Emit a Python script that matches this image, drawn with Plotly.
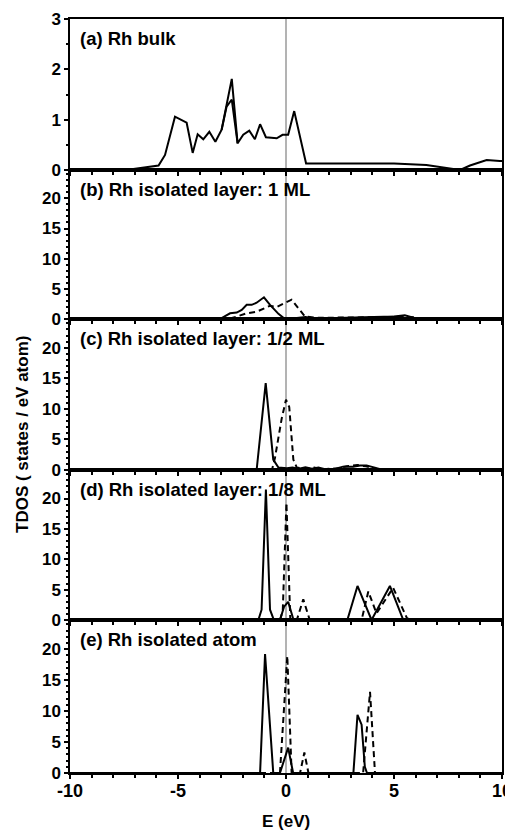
import plotly.graph_objects as go

# ---------------- data ----------------
Ea = [-10, -7.4, -6.9, -5.9, -5.6, -5.14, -4.6, -4.32, -4.09, -3.83, -3.55, -3.27, -2.98, -2.75, -2.51,
      -2.24, -1.98, -1.70, -1.44, -1.20, -0.93, -0.43, -0.16, 0.10, 0.38, 0.93, 2.0, 3.5, 5.0, 6.5, 7.3,
      8.06, 8.52, 9.29, 9.9, 10]
Ta = [0, 0, 0.03, 0.09, 0.3, 1.06, 0.94, 0.34, 0.71, 0.61, 0.76, 0.56, 0.80, 1.26, 1.81,
      0.53, 0.70, 0.78, 0.61, 0.91, 0.65, 0.63, 0.70, 0.70, 1.17, 0.13, 0.13, 0.14, 0.13, 0.10, 0.05,
      0, 0.09, 0.2, 0.18, 0.18]
Ea2 = [-2.98, -2.75, -2.51, -2.24]
Ta2 = [0.80, 1.26, 1.40, 0.53]

Eb_s = [-10, -3.06, -2.59, -2.28, -2.05, -1.82, -1.59, -1.36, -1.02, -0.74, -0.35, -0.12, 0.3, 0.9,
        1.3, 1.9, 2.8, 3.6, 4.4, 5.0, 5.5, 5.8, 6.1, 10]
Tb_s = [0, 0, 0.95, 1.06, 1.5, 2.35, 2.35, 2.7, 3.6, 2.35, 0.85, 0.22, 0.1, 0.35,
        0.1, 0.1, 0.2, 0.3, 0.35, 0.4, 0.6, 0.3, 0, 0]
Eb_d = [-10, -2.7, -2.28, -1.82, -1.36, -0.74, -0.43, -0.12, 0.26, 0.57, 0.88, 1.5, 2.5, 3.5, 4.5,
        5.3, 5.9, 6.2, 10]
Tb_d = [0, 0, 0.4, 0.95, 1.2, 2.2, 2.0, 2.6, 3.2, 1.8, 0.4, 0.2, 0.2, 0.3, 0.3,
        0.4, 0.3, 0, 0]

Ec_s = [-10, -1.36, -0.94, -0.59, -0.35, 0.04, 0.3, 0.6, 0.9, 1.2, 1.5, 1.9, 2.3, 2.64, 3.1, 3.43,
        3.73, 4.2, 4.5, 10]
Tc_s = [0, 0, 14.2, 1.7, 0.4, 0.3, 0.4, 0.2, 0.45, 0.2, 0.4, 0.05, 0.2, 0.55, 0.55, 0.75,
        0.75, 0.3, 0, 0]
Ec_d = [-10, -0.65, -0.51, -0.2, 0.0, 0.15, 0.34, 0.5, 0.9, 1.3, 1.7, 2.4, 2.8, 3.3, 3.7, 4.0, 4.4, 10]
Tc_d = [0, 0, 2.0, 8.4, 11.5, 10.3, 1.7, 0.4, 0.2, 0.4, 0.1, 0.3, 0.6, 0.8, 0.6, 0.3, 0, 0]

Ed_s = [-10, -1.28, -1.13, -0.93, -0.74, -0.56, -0.28, -0.09, 0.1, 0.35, 2.84, 3.31, 3.96, 4.81, 5.43, 10]
Td_s = [0, 0, 1.7, 21.5, 1.7, 0, 0, 2.2, 3.0, 0, 0, 5.6, 0, 5.6, 0, 0]
Ed_d = [-10, -0.28, -0.15, 0.02, 0.2, 0.5, 0.8, 1.1, 3.5, 3.81, 4.19, 4.96, 5.6, 5.8, 10]
Td_d = [0, 0, 1.5, 19.3, 0, 0, 3.4, 0, 0, 4.7, 1.1, 5.3, 0.3, 0, 0]

Ee_s = [-10, -1.2, -0.97, -0.59, -0.28, 0.10, 0.33, 3.12, 3.31, 3.5, 3.65, 3.75, 10]
Te_s = [0, 0, 19.2, 0, 0, 4.1, 0, 0, 9.4, 7.8, 1.0, 0, 0]
Ee_d = [-10, -0.28, 0.06, 0.26, 0.65, 0.85, 1.04, 3.57, 3.89, 4.12, 10]
Te_d = [0, 0, 18.9, 0, 0, 3.3, 0, 0, 13.1, 0, 0]

panel_labels = ["(a) Rh bulk", "(b) Rh isolated layer: 1 ML", "(c) Rh isolated layer: 1/2 ML",
                "(d) Rh isolated layer: 1/8 ML", "(e) Rh isolated atom"]
x_ticks = [-10, -5, 0, 5, 10]
x_ticktext = ["-10", "-5", "0", "5", "10"]
ya_ticks = [0, 1, 2, 3]
yb_ticks = [0, 5, 10, 15, 20]

# ---------------- layout ----------------
FONT = "Liberation Sans, Arial, sans-serif"
OFF = 8                      # default page body margin
W, H = 513 - OFF, 838 - OFF
# plot area in screen pixels: x 70..502, y 19..773
ml, mr = 70 - OFF, 513 - 502
mt, mb = 19 - OFF, 838 - 773
plot_h = H - mt - mb
plot_w = W - ml - mr
bounds = [19, 170, 319, 470, 620, 773]
domains = [[(773 - bounds[i + 1]) / plot_h, (773 - bounds[i]) / plot_h] for i in range(5)]

fig = go.Figure()
solid = dict(color="black", width=2)
dashed = dict(color="black", width=2, dash="6px,4px")

series = [
    [(Ea, Ta, solid), (Ea2, Ta2, solid)],
    [(Eb_d, Tb_d, dashed), (Eb_s, Tb_s, solid)],
    [(Ec_d, Tc_d, dashed), (Ec_s, Tc_s, solid)],
    [(Ed_d, Td_d, dashed), (Ed_s, Td_s, solid)],
    [(Ee_d, Te_d, dashed), (Ee_s, Te_s, solid)],
]

for i, group in enumerate(series):
    xa = "x" if i == 0 else f"x{i+1}"
    ya = "y" if i == 0 else f"y{i+1}"
    for xs, ys, ln in group:
        fig.add_trace(go.Scatter(x=xs, y=ys, mode="lines", line=ln, xaxis=xa, yaxis=ya,
                                 showlegend=False, hoverinfo="skip"))

layout = {}
for i in range(5):
    sx = "" if i == 0 else str(i + 1)
    last = i == 4
    layout[f"xaxis{sx}"] = dict(
        domain=[0, 1], anchor=f"y{sx}", range=[-10, 10], tickvals=x_ticks, ticktext=x_ticktext,
        showticklabels=last, ticks="outside", ticklen=4, tickwidth=1.5, tickcolor="black",
        minor=dict(dtick=1, ticks="outside", ticklen=3, tickwidth=1.5, tickcolor="black"),
        showline=True, linecolor="black", linewidth=1.5, mirror=True, showgrid=False, zeroline=False,
        tickfont=dict(family=FONT, size=18, color="black", weight="bold"),
        ticklabelstandoff=-3,
        automargin=False,
        **({"matches": "x"} if i > 0 else {}),
    )
    if i == 0:
        yr, tv, mdt = [0, 3], ya_ticks, 0.5
    else:
        yr, tv, mdt = [0, 24.7], yb_ticks, 1
    layout[f"yaxis{sx}"] = dict(
        domain=domains[i], anchor=f"x{sx}", range=yr, tickvals=tv,
        ticks="outside", ticklen=4, tickwidth=1.5, tickcolor="black",
        minor=dict(dtick=mdt, ticks="outside", ticklen=2, tickwidth=1.5, tickcolor="black"),
        showline=True, linecolor="black", linewidth=1.5, mirror=True, showgrid=False, zeroline=False,
        tickfont=dict(family=FONT, size=17, color="black", weight="bold"),
        automargin=False,
    )

fig.update_layout(
    width=W, height=H, margin=dict(t=mt, b=mb, l=ml, r=mr, autoexpand=False),
    paper_bgcolor="white", plot_bgcolor="white",
    **layout,
)

# vertical line at E = 0 across all panels
fig.add_shape(type="line", xref="x", yref="paper", x0=0, x1=0, y0=0, y1=1,
              line=dict(color="#808080", width=1.2), layer="below")

# panel labels
for i, lab in enumerate(panel_labels):
    top = domains[i][1]
    fig.add_annotation(text=f"<b>{lab}</b>", xref="paper", yref="paper", x=8 / plot_w,
                       y=top - 7 / plot_h, xanchor="left", yanchor="top", showarrow=False,
                       font=dict(family=FONT, size=18.5, color="black"))

# axis titles
fig.add_annotation(text="<b>E (eV)</b>", xref="paper", yref="paper", x=(286 - 70) / plot_w,
                   y=-(822 - 773) / plot_h, xanchor="center", yanchor="middle", showarrow=False,
                   font=dict(family=FONT, size=17, color="black"))
fig.add_annotation(text="<b>TDOS ( states / eV atom)</b>", xref="paper", yref="paper",
                   x=-(70 - 22) / plot_w, y=(773 - 435) / plot_h, textangle=-90,
                   xanchor="center", yanchor="middle", showarrow=False,
                   font=dict(family=FONT, size=17, color="black"))

fig.write_html("out.html")
